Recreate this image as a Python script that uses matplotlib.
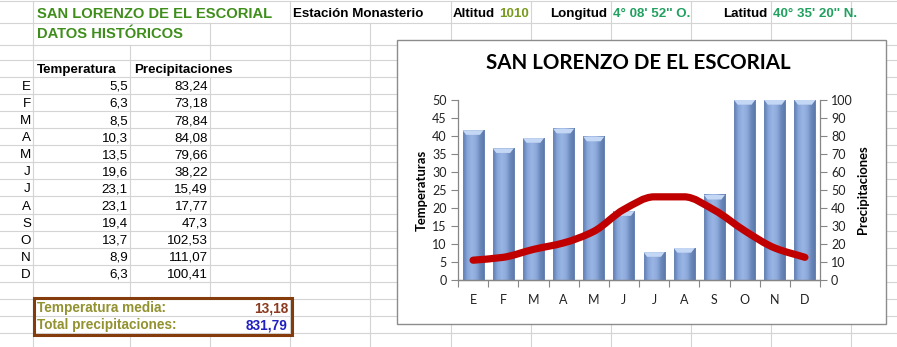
import numpy as np
import matplotlib
matplotlib.use("Agg")
import matplotlib.pyplot as plt
from matplotlib.colors import LinearSegmentedColormap
from matplotlib.patches import Rectangle, Polygon, PathPatch
from matplotlib.path import Path

# data from the sheet
months = ["E", "F", "M", "A", "M", "J", "J", "A", "S", "O", "N", "D"]
temps = [5.5, 6.3, 8.5, 10.3, 13.5, 19.6, 23.1, 23.1, 19.4, 13.7, 8.9, 6.3]
precips = [83.24, 73.18, 78.84, 84.08, 79.66, 38.22, 15.49, 17.77, 47.3, 102.53, 111.07, 100.41]
temp_ticks = list(range(0, 55, 5))
precip_ticks = list(range(0, 110, 10))

SHEET_FONT = "Liberation Sans"
CHART_FONT = "Lato"
GRID = "#D4D4D4"


def fmt(v):
    return f"{v:g}".replace(".", ",")


def smooth_path(xs, ys):
    """Bezier path through the points, monotone tangents (no overshoot)."""
    xs = np.asarray(xs, float)
    ys = np.asarray(ys, float)
    sec = np.diff(ys) / np.diff(xs)
    tan = np.zeros_like(ys)
    tan[0], tan[-1] = sec[0], sec[-1]
    for i in range(1, len(ys) - 1):
        if sec[i - 1] * sec[i] > 0:
            tan[i] = 2 / (1 / sec[i - 1] + 1 / sec[i])
    verts = [(xs[0], ys[0])]
    codes = [Path.MOVETO]
    for i in range(len(xs) - 1):
        h = xs[i + 1] - xs[i]
        verts += [(xs[i] + h / 3, ys[i] + tan[i] * h / 3),
                  (xs[i + 1] - h / 3, ys[i + 1] - tan[i + 1] * h / 3),
                  (xs[i + 1], ys[i + 1])]
        codes += [Path.CURVE4] * 3
    return Path(verts, codes)


fig = plt.figure(figsize=(8.97, 3.47), dpi=100)

# ---- spreadsheet background (pixel coordinates) ----
bg = fig.add_axes([0, 0, 1, 1])
bg.set_xlim(0, 897)
bg.set_ylim(347, 0)
bg.axis("off")
bg.set_zorder(-5)

col_edges = [33, 130, 210, 290, 370, 451, 531, 611, 691, 771, 851]
row_edges = [0.5, 22.7, 45, 59.5] + [76.7 + 17.1 * k for k in range(17)]

for y in row_edges:
    bg.plot([0, 897], [y, y], color=GRID, lw=0.8, zorder=1)

# cells where overflowing text hides the vertical grid line
hidden = {(0, 130), (0, 210), (0, 370), (1, 130), (3, 210),
          (17, 130), (17, 210), (18, 130), (18, 210)}
for r in range(len(row_edges) - 1):
    for x in col_edges:
        if (r, x) in hidden:
            continue
        bg.plot([x, x], [row_edges[r], row_edges[r + 1]], color=GRID, lw=0.8, zorder=1)

green = "#3F8E1C"
bg.text(37, 17.5, "SAN LORENZO DE EL ESCORIAL", fontsize=10.6, fontweight="bold",
        color=green, family=SHEET_FONT, va="baseline", zorder=3)
bg.text(37, 38, "DATOS HISTÓRICOS", fontsize=10.6, fontweight="bold",
        color=green, family=SHEET_FONT, va="baseline", zorder=3)

top_kw = dict(fontsize=9.6, fontweight="bold", family=SHEET_FONT, va="baseline", zorder=3)
bg.text(293, 17.3, "Estación Monasterio", color="black", **top_kw)
bg.text(453, 17.3, "Altitud", color="black", **top_kw)
bg.text(499, 17.3, "1010", color="#7A9A20", **top_kw)
bg.text(607, 17.3, "Longitud", color="black", ha="right", **top_kw)
bg.text(613, 17.3, "4° 08' 52'' O.", color="#22A060", **top_kw)
bg.text(767, 17.3, "Latitud", color="black", ha="right", **top_kw)
bg.text(773, 17.3, "40° 35' 20'' N.", color="#22A060", **top_kw)

bg.text(37, 73.3, "Temperatura", **top_kw)
bg.text(134, 73.3, "Precipitaciones", **top_kw)

cell_kw = dict(fontsize=9.6, family=SHEET_FONT, va="baseline", ha="right", zorder=3)
for i, (m, t, p) in enumerate(zip(months, temps, precips)):
    base = row_edges[i + 5] - 4
    bg.text(31, base, m, **cell_kw)
    bg.text(128, base, fmt(t), **cell_kw)
    bg.text(208, base, fmt(p), **cell_kw)

t_mean = np.mean(temps)
p_total = np.sum(precips)
box_kw = dict(fontsize=9.8, fontweight="bold", family=SHEET_FONT, va="baseline", zorder=3)
bg.text(37, 312.3, "Temperatura media:", color="#929231", **box_kw)
bg.text(37, 329.3, "Total precipitaciones:", color="#929231", **box_kw)
bg.text(288, 312.3, f"{t_mean:.2f}".replace(".", ","), color="#8B3A1E", ha="right", **box_kw)
bg.text(288, 329.3, f"{p_total:.2f}".replace(".", ","), color="#2020C0", ha="right", **box_kw)
bg.add_patch(Rectangle((33.5, 297.5), 258, 37, fill=False, edgecolor="#843C0C", lw=2.2, zorder=4))

# chart frame
bg.add_patch(Rectangle((397, 40), 489, 284, facecolor="white", edgecolor="#8C8C8C", lw=1.0, zorder=5))
bg.text(638, 63, "SAN LORENZO DE EL ESCORIAL", fontsize=14.8, fontweight="bold",
        family=CHART_FONT, ha="center", va="center", zorder=6)

# ---- chart ----
W, H = 897, 347
ax = fig.add_axes([458 / W, 1 - 280 / H, (820 - 458) / W, (280 - 100) / H])
ax2 = ax.twinx()
ax.set_zorder(2)
ax2.set_zorder(1)
ax.patch.set_visible(False)
ax2.patch.set_visible(False)

x = np.arange(len(months))
bar_cmap = LinearSegmentedColormap.from_list(
    "bar", ["#5F7DB2", "#89A6DA", "#9AB5E3", "#8EAADC", "#6A87BA", "#5A77AA"])
bars = ax2.bar(x, precips, width=0.7, color="none", edgecolor="#6C87B6", lw=0.6, zorder=3)
grad = np.linspace(0, 1, 64).reshape(1, -1)
for rect, p in zip(bars, precips):
    x0 = rect.get_x()
    x1 = x0 + rect.get_width()
    ax2.imshow(grad, extent=(x0, x1, 0, p), aspect="auto", cmap=bar_cmap,
               interpolation="bicubic", zorder=2)
    top = min(p, 100)
    d, c = 0.12, 2.6
    ax2.add_patch(Polygon([(x0, top), (x1, top), (x1 - d, top - c), (x0 + d, top - c)],
                          closed=True, facecolor="#C4D7F4", edgecolor="none", zorder=4))

ax.add_patch(PathPatch(smooth_path(x, temps), fill=False, edgecolor="#C00000", lw=5.2,
                       capstyle="round", joinstyle="round", zorder=5))

ax.set_xlim(-0.5, len(months) - 0.5)
ax.set_ylim(0, 50)
ax2.set_ylim(0, 100)
ax.set_yticks(temp_ticks)
ax2.set_yticks(precip_ticks)
ax.set_xticks(np.arange(-0.5, len(months)), minor=False)
ax.set_xticklabels([])
ax.set_xticks(x, minor=True)
ax.set_xticklabels(months, minor=True)

axis_gray = "#868686"
for a in (ax, ax2):
    for s in a.spines.values():
        s.set_color(axis_gray)
        s.set_linewidth(0.9)
    a.spines["top"].set_visible(False)
ax.spines["right"].set_visible(False)
ax2.spines["left"].set_visible(False)

ax.tick_params(axis="both", which="major", direction="out", length=5, color=axis_gray,
               labelsize=9, labelcolor="#222222", pad=3)
ax.tick_params(axis="x", which="minor", length=0, pad=10, labelsize=9, labelcolor="#222222")
ax2.tick_params(axis="y", direction="out", length=5, color=axis_gray,
                labelsize=9, labelcolor="#222222", pad=3)
for lab in ax.get_xticklabels(minor=True) + ax.get_yticklabels() + ax2.get_yticklabels():
    lab.set_family(CHART_FONT)

ax.set_ylabel("Temperaturas", fontsize=9.4, fontweight="bold", family=CHART_FONT, labelpad=3)
ax2.set_ylabel("Precipitaciones", fontsize=9.4, fontweight="bold", family=CHART_FONT, labelpad=3)

fig.savefig("out.png", dpi=100)
